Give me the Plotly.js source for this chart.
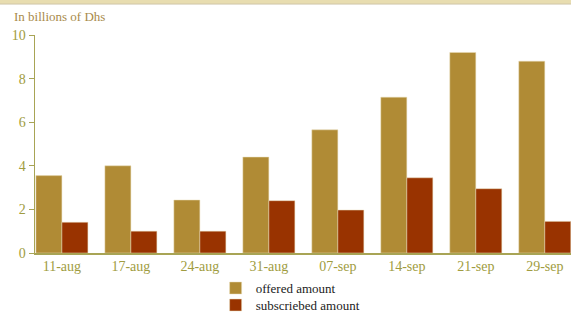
<!DOCTYPE html>
<html><head><meta charset="utf-8">
<script src="https://cdn.plot.ly/plotly-3.0.1.min.js"></script>
<style>html,body{margin:0;padding:0;background:#fff}#chart{width:571px;height:313px}</style>
</head><body><div id="chart"></div>
<script>
const categories = ["11-aug","17-aug","24-aug","31-aug","07-sep","14-sep","21-sep","29-sep"];
const offered = [3.55, 4.0, 2.43, 4.4, 5.65, 7.15, 9.2, 8.8];
const subscribed = [1.41, 1.0, 1.0, 2.4, 1.97, 3.45, 2.95, 1.45];
const yTicks = [0, 2, 4, 6, 8, 10];

const font = {family: "Liberation Serif, DejaVu Serif, serif", size: 14, color: "#a09c40"};
const legFont = {family: "Liberation Serif, DejaVu Serif, serif", size: 13, color: "#222"};
const traces = [
  {type: "bar", name: "offered amount", x: categories, y: offered, legend: "legend",
   marker: {color: "#b08b35", line: {color: "#e8dcb8", width: 0.5}}},
  {type: "bar", name: "subscriebed amount", x: categories, y: subscribed, legend: "legend2",
   marker: {color: "#993300", line: {color: "#e8dcb8", width: 0.5}}}
];
const layout = {
  width: 571, height: 313,
  margin: {l: 35, r: 0, t: 35, b: 60, pad: 0, autoexpand: false},
  paper_bgcolor: "#ffffff", plot_bgcolor: "#ffffff",
  font: font,
  barmode: "group", bargap: 0.246, bargroupgap: 0,
  showlegend: true,
  legend: {orientation: "v", x: 0.337, y: -0.092, xanchor: "left", yanchor: "top",
           font: legFont, itemwidth: 30, bgcolor: "rgba(0,0,0,0)"},
  legend2: {orientation: "v", x: 0.337, y: -0.170, xanchor: "left", yanchor: "top",
           font: legFont, itemwidth: 30, bgcolor: "rgba(0,0,0,0)"},
  xaxis: {type: "category", range: [-0.39, 7.38], showline: true, linecolor: "#a8a455", linewidth: 1.5,
          ticks: "", showgrid: false, zeroline: false, tickfont: font, fixedrange: true},
  yaxis: {range: [0, 10], tickvals: yTicks, showline: true, linecolor: "#a8a455", linewidth: 1.5,
          ticks: "outside", ticklen: 5, tickcolor: "#a8a455", showgrid: false, zeroline: false,
          tickfont: font, fixedrange: true},
  annotations: [{text: "In billions of Dhs", xref: "paper", yref: "paper", x: -0.043, y: 1.083,
                 xanchor: "left", yanchor: "middle", showarrow: false,
                 font: {family: "Liberation Serif, DejaVu Serif, serif", size: 13, color: "#a88a4a"}}],
  shapes: [{type: "rect", xref: "paper", yref: "paper", x0: -0.0653, x1: 1.0, y0: 1.142, y1: 1.165,
            fillcolor: "#e8ddb0", line: {width: 0}, layer: "above"},
           {type: "line", xref: "paper", yref: "paper", x0: -0.0653, x1: 1.0, y0: 1.142, y1: 1.142,
            line: {color: "#cfc6a8", width: 1}}]
};
Plotly.newPlot("chart", traces, layout, {displayModeBar: false, staticPlot: true});
</script></body></html>
